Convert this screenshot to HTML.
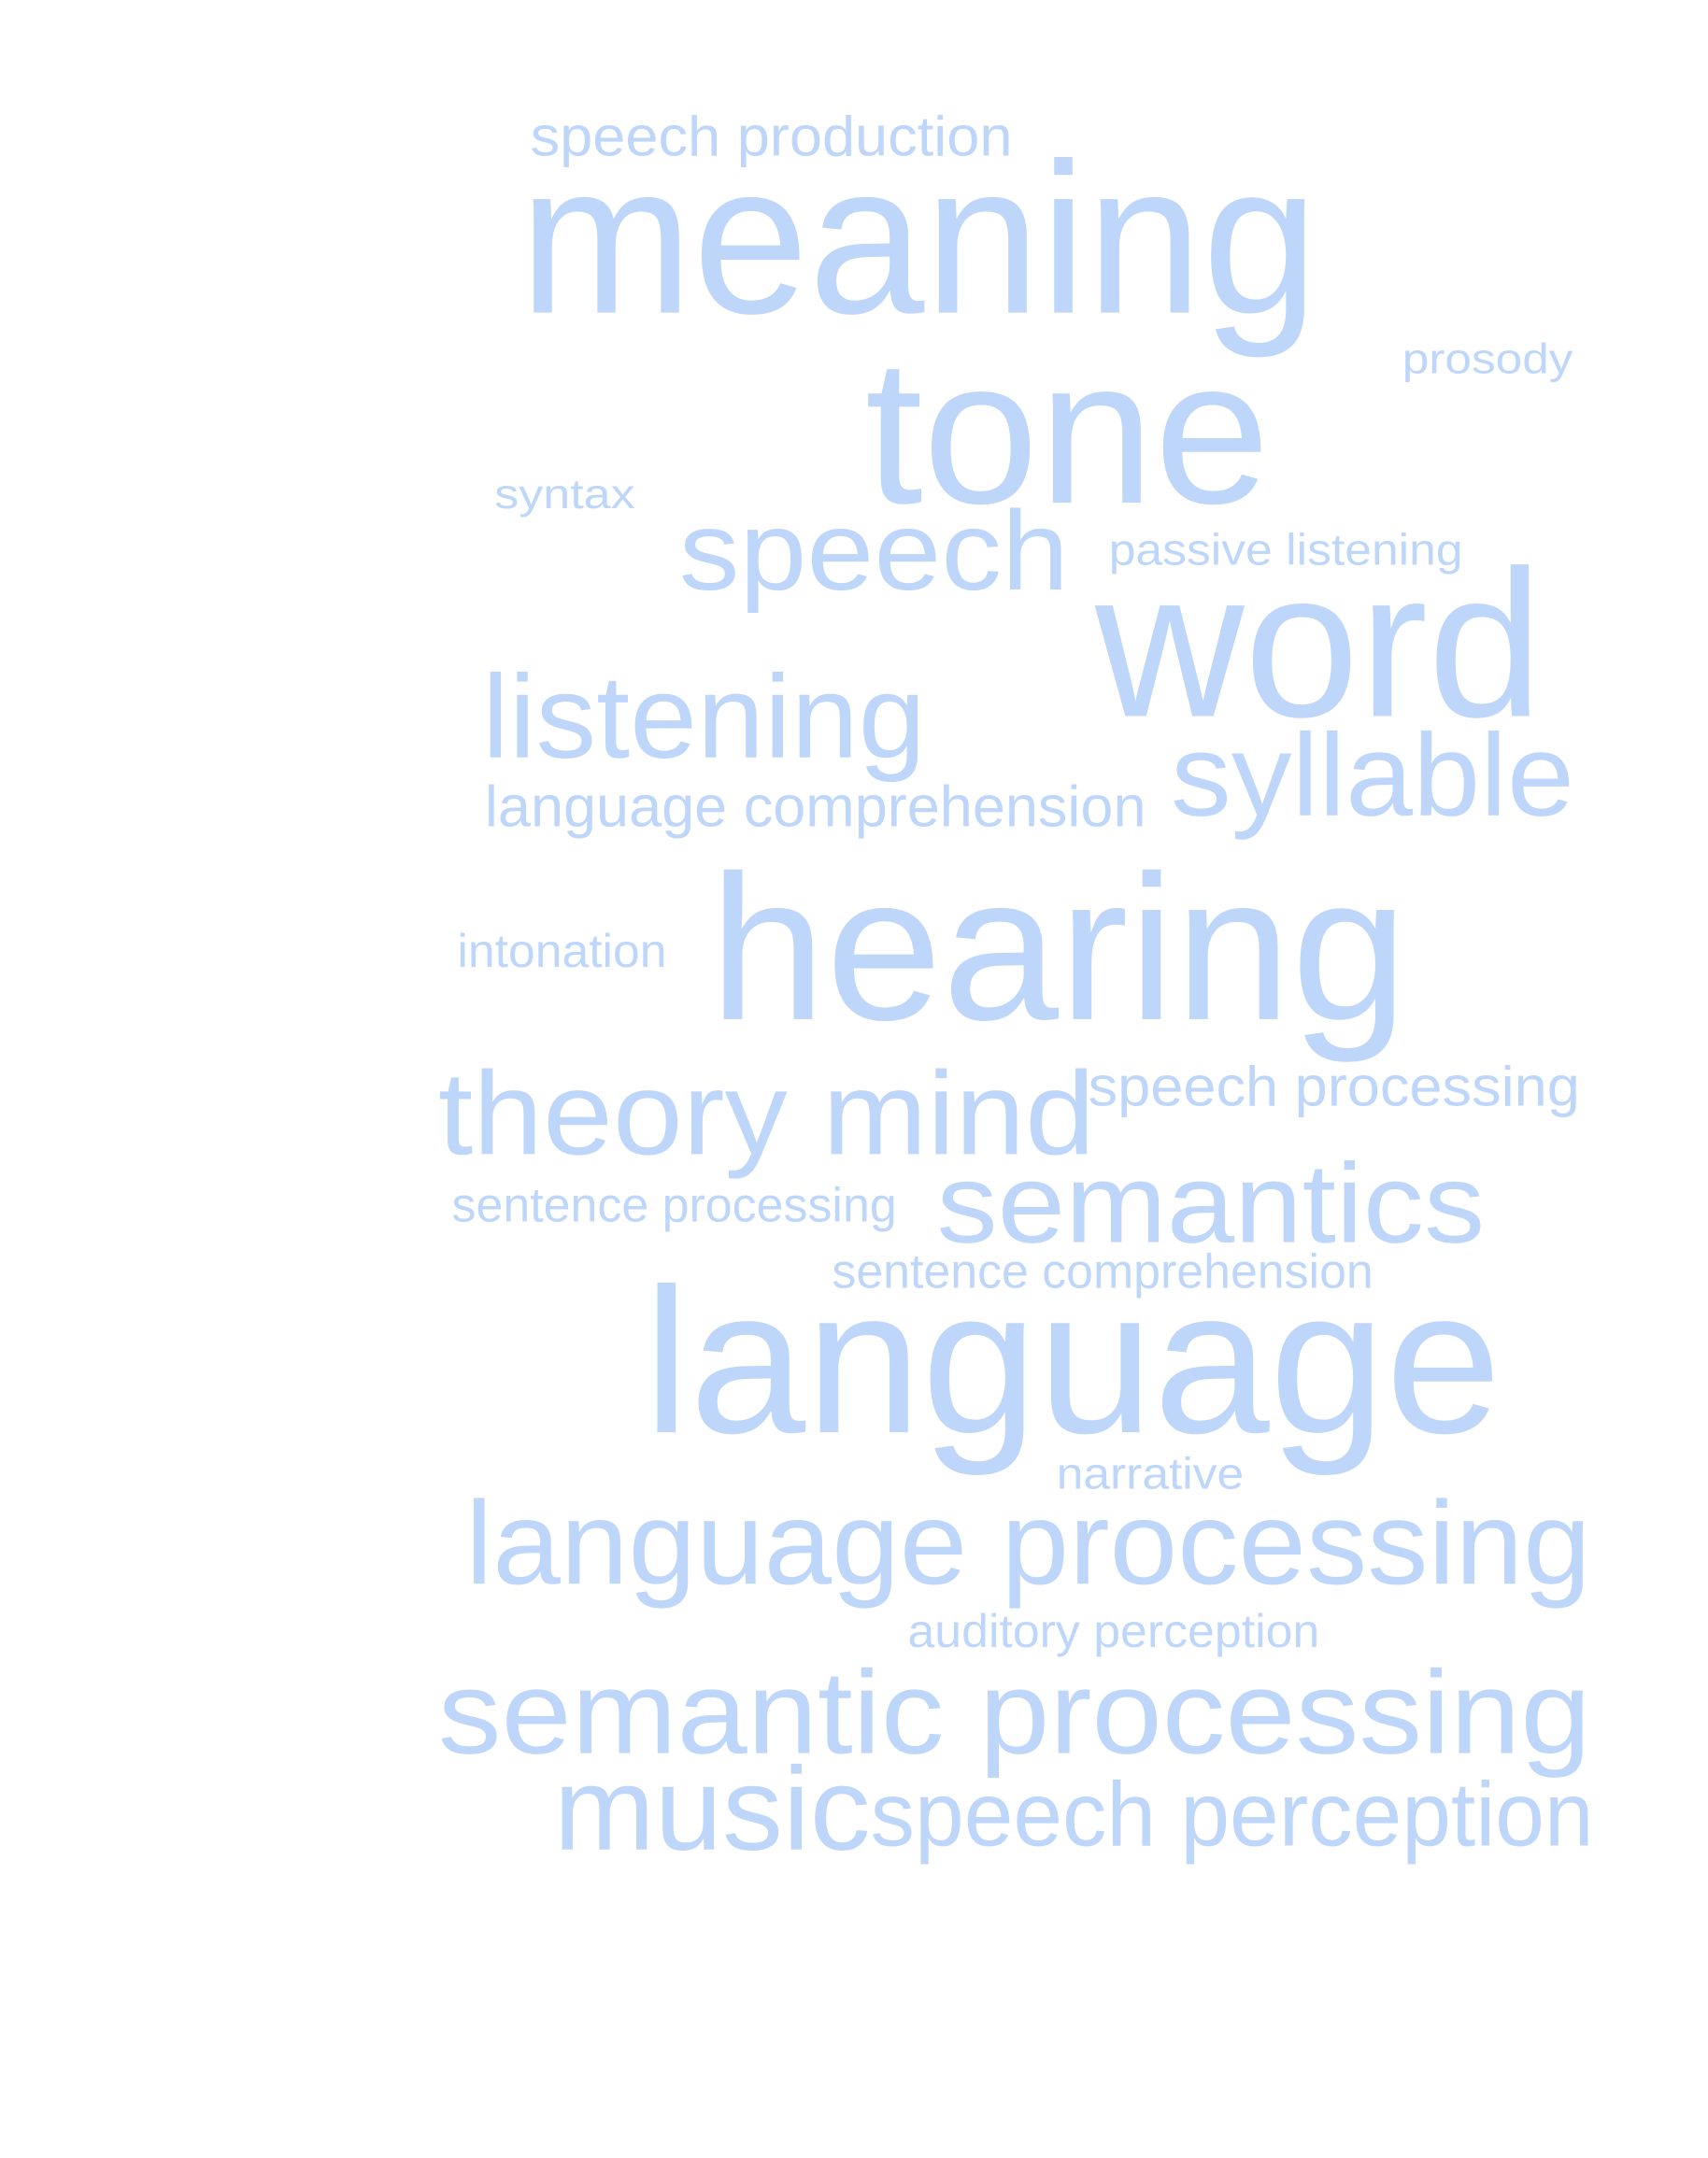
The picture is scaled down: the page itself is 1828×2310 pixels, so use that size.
<!DOCTYPE html>
<html><head><meta charset="utf-8"><style>html,body{margin:0;padding:0;background:#fff}svg{display:block}</style></head>
<body>
<svg id="cloud" width="1828" height="2310" viewBox="0 0 1240 1567" xmlns="http://www.w3.org/2000/svg"></svg>
<script>
const words=["speech production","meaning","prosody","tone","syntax","speech","passive listening","word","listening","syllable","language comprehension","hearing","intonation","theory mind","speech processing","sentence processing","semantics","sentence comprehension","language","narrative","language processing","auditory perception","semantic processing","music","speech perception"];
const weights=[41,156,31,150,30,82,32,152,86,85,42,150,34,86,41,35,82,35,150,32,86,34,86,86,66];
const lefts=[385,377,1018,628,359,493,805,795,350,850,352,515,332,318,790,328,680,604,467,767,338,659,318,402,632];
const rights=[735,957,1142,922,461,776,1062,1120,672,1143,832,1022,484,795,1147,651,1078,997,1090,903,1155,958,1155,632,1157];
const baselines=[113,227,271,365,369,428,410,520,550,592,600,740,702,838,803,887,902,935,1040,1081,1150,1196,1273,1343,1340];
const svg=document.getElementById('cloud');
const NS="http://www.w3.org/2000/svg";
for(let i=0;i<words.length;i++){
  const t=document.createElementNS(NS,'text');
  
  
  t.setAttribute('x',lefts[i]);
  t.setAttribute('y',baselines[i]);
  t.setAttribute('font-size',weights[i]);
  t.setAttribute('font-family','Liberation Sans, Arial, sans-serif');
  t.setAttribute('fill','#bfd6fb');
  t.setAttribute('textLength',rights[i]-lefts[i]);
  t.setAttribute('lengthAdjust','spacingAndGlyphs');
  t.textContent=words[i];
  svg.appendChild(t);
}
</script>
</body></html>
